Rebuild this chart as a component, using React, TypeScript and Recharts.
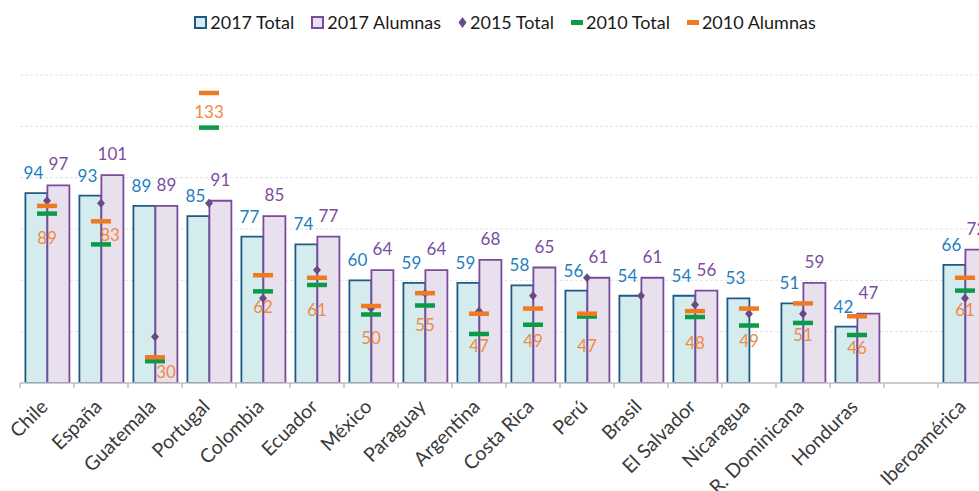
import React from "react";
import {
  ComposedChart,
  Bar,
  Line,
  XAxis,
  YAxis,
  CartesianGrid,
  Legend,
  LabelList,
} from "recharts";

// ---------- data ----------
const categories = [
  "Chile", "España", "Guatemala", "Portugal", "Colombia", "Ecuador", "México",
  "Paraguay", "Argentina", "Costa Rica", "Perú", "Brasil", "El Salvador",
  "Nicaragua", "R. Dominicana", "Honduras", " ", "Iberoamérica",
];
const total2017 = [94, 93, 89, 85, 77, 74, 60, 59, 59, 58, 56, 54, 54, 53, 51, 42, null, 66];
const alumnas2017 = [97, 101, 89, 91, 85, 77, 64, 64, 68, 65, 61, 61, 56, null, 59, 47, null, 72];
const total2015 = [91, 90, 38, 90, 53, 64, 49, 55, 48, 54, 61, 54, 50.5, 47, 47, null, null, 53];
const total2010 = [86, 74, 28.5, 119.5, 55.7, 58.2, 46.7, 50.2, 39.1, 42.7, 45.9, null, 45.7, 42.4, 43.4, 38.7, null, 56];
const alumnas2010 = [89, 83, 30, 133, 62, 61, 50, 55, 47, 49, 47, null, 48, 49, 51, 46, null, 61];
const seriesNames = ["2017 Total", "2017 Alumnas", "2015 Total", "2010 Total", "2010 Alumnas"];
const yTicks = [20, 40, 60, 80, 100, 120, 140];

const data = categories.map((name, i) => ({
  name,
  total2017: total2017[i],
  alumnas2017: alumnas2017[i],
  total2015: total2015[i],
  total2010: total2010[i],
  alumnas2010: alumnas2010[i],
}));

// ---------- layout / style ----------
const CHART_W = 1010;
const CHART_H = 491;
const X_AXIS_H = 108;
const MARGIN = { top: 75, right: 18, bottom: 0, left: 20 };
const BAND = (CHART_W - MARGIN.left - MARGIN.right) / categories.length;
const PLOT_BOTTOM = CHART_H - X_AXIS_H;
const PX_PER_UNIT = (PLOT_BOTTOM - MARGIN.top) / (yTicks[yTicks.length - 1] - yTicks[0]);
const toPx = (v: number) => PLOT_BOTTOM - (v - yTicks[0]) * PX_PER_UNIT;
const FONT = "Lato, 'Open Sans', sans-serif";

const C = {
  totalFill: "#d5ecee",
  totalStroke: "#1d5a85",
  alumFill: "#e8e0ed",
  alumStroke: "#7a4a9c",
  diamond: "#6a4a86",
  green: "#0b9a48",
  orange: "#ef7a22",
  blueText: "#1f7ec0",
  purpleText: "#7b4d9f",
  orangeText: "#f08a44",
  axis: "#bfbfbf",
  grid: "#e2e2e2",
};

const diamondDot = (props: any) => {
  const { cx, cy, index } = props;
  if (cx == null || cy == null || !isFinite(cy)) return <g key={`dm-${index}`} />;
  return (
    <path
      key={`dm-${index}`}
      d={`M${cx},${cy - 4.5}L${cx + 4},${cy}L${cx},${cy + 4.5}L${cx - 4},${cy}Z`}
      fill={C.diamond}
    />
  );
};

const makeDash = (color: string, id: string) => (props: any) => {
  const { cx, cy, index } = props;
  if (cx == null || cy == null || !isFinite(cy)) return <g key={`${id}-${index}`} />;
  return <rect key={`${id}-${index}`} x={cx - 10} y={cy - 2.25} width={20} height={4.5} fill={color} />;
};

const makeBarLabel = (color: string, dx: number, lift: number) => (props: any) => {
  const { value } = props;
  if (value == null) return null;
  const vb = props.viewBox || props;
  const x = vb.x + (vb.width || 0) / 2 + dx;
  return (
    <text x={x} y={vb.y - lift} textAnchor="middle" fill={color} fontSize={17} fontFamily={FONT}>
      {value}
    </text>
  );
};

// orange label: below the 2010 dashes, between them when they are far apart, never under the axis
const orangeLabel = (props: any) => {
  const { value, index } = props;
  if (value == null) return null;
  const vb = props.viewBox || props;
  let x = vb.x + (vb.width || 0) / 2;
  const oy = vb.y;
  const g = index != null ? total2010[index] : null;
  let baseline = oy + 38;
  if (g != null) {
    const gy = toPx(g);
    if (gy - oy >= 22) {
      baseline = (oy + gy) / 2 + 8;
      const a = alumnas2017[index];
      if (a != null && baseline - 6 > toPx(a)) x += 9;
    }
  }
  if (baseline > PLOT_BOTTOM - 5) {
    baseline = PLOT_BOTTOM - 5;
    x += 11;
  }
  return (
    <text x={x} y={baseline} textAnchor="middle" fill={C.orangeText} fontSize={17} fontFamily={FONT}>
      {value}
    </text>
  );
};

const CategoryTick = (props: any) => {
  const { x, y, payload } = props;
  return (
    <g>
      <line x1={x - BAND / 2} y1={y} x2={x - BAND / 2} y2={y + 5} stroke={C.axis} strokeWidth={1.5} />
      <text
        transform={`translate(${x + 2},${y + 25}) rotate(-45)`}
        textAnchor="end"
        fill="#3a3a3a"
        fontSize={19.5}
        fontFamily={FONT}
      >
        {payload.value}
      </text>
    </g>
  );
};

const LegendContent = () => {
  const markers = [
    <span style={{ display: "inline-block", width: 9, height: 9, border: `2px solid ${C.totalStroke}`, background: C.totalFill }} />,
    <span style={{ display: "inline-block", width: 9, height: 9, border: `2px solid ${C.alumStroke}`, background: C.alumFill }} />,
    <svg width={9} height={11} style={{ display: "block" }}><path d="M4.5,0L8.5,5.5L4.5,11L0.5,5.5Z" fill={C.diamond} /></svg>,
    <span style={{ display: "inline-block", width: 12, height: 5, background: C.green }} />,
    <span style={{ display: "inline-block", width: 12, height: 5, background: C.orange }} />,
  ];
  return (
    <div
      style={{
        display: "flex",
        justifyContent: "center",
        alignItems: "center",
        fontFamily: FONT,
        fontSize: 18,
        color: "#1a1a1a",
        lineHeight: "24px",
        whiteSpace: "nowrap",
      }}
    >
      {seriesNames.map((n, i) => (
        <div key={n} style={{ display: "flex", alignItems: "center", marginRight: i < seriesNames.length - 1 ? 17 : 0 }}>
          <div style={{ marginRight: 3, display: "flex", alignItems: "center" }}>{markers[i]}</div>
          <span>{n}</span>
        </div>
      ))}
    </div>
  );
};

export default function App() {
  return (
    <div
      style={{
        position: "absolute",
        left: 0,
        top: 0,
        width: 979,
        height: 491,
        overflow: "hidden",
        background: "#ffffff",
      }}
    >
      <ComposedChart
        width={CHART_W}
        height={CHART_H}
        data={data}
        margin={MARGIN}
        barCategoryGap="10%"
        barGap={0}
      >
        <CartesianGrid vertical={false} stroke={C.grid} strokeDasharray="3 2" />
        <XAxis
          dataKey="name"
          interval={0}
          tickLine={false}
          tickSize={0}
          tickMargin={0}
          axisLine={{ stroke: C.axis, strokeWidth: 1.5 }}
          height={X_AXIS_H}
          tick={<CategoryTick />}
        />
        <YAxis hide type="number" domain={[20, 140]} ticks={yTicks} allowDataOverflow />
        <Legend
          verticalAlign="middle"
          align="center"
          layout="horizontal"
          content={<LegendContent />}
          wrapperStyle={{ top: 10, left: 0, width: CHART_W }}
        />
        <Bar dataKey="total2017" name={seriesNames[0]} fill={C.totalFill} stroke={C.totalStroke} strokeWidth={1.8} isAnimationActive={false}>
          <LabelList dataKey="total2017" content={makeBarLabel(C.blueText, -3, 14)} />
        </Bar>
        <Bar dataKey="alumnas2017" name={seriesNames[1]} fill={C.alumFill} stroke={C.alumStroke} strokeWidth={1.8} isAnimationActive={false}>
          <LabelList dataKey="alumnas2017" content={makeBarLabel(C.purpleText, 0, 15)} />
        </Bar>
        <Line dataKey="total2015" name={seriesNames[2]} stroke="none" dot={diamondDot} activeDot={false} isAnimationActive={false} />
        <Line dataKey="total2010" name={seriesNames[3]} stroke="none" dot={makeDash(C.green, "g")} activeDot={false} isAnimationActive={false} />
        <Line dataKey="alumnas2010" name={seriesNames[4]} stroke="none" dot={makeDash(C.orange, "o")} activeDot={false} isAnimationActive={false}>
          <LabelList dataKey="alumnas2010" content={orangeLabel} />
        </Line>
      </ComposedChart>
    </div>
  );
}
